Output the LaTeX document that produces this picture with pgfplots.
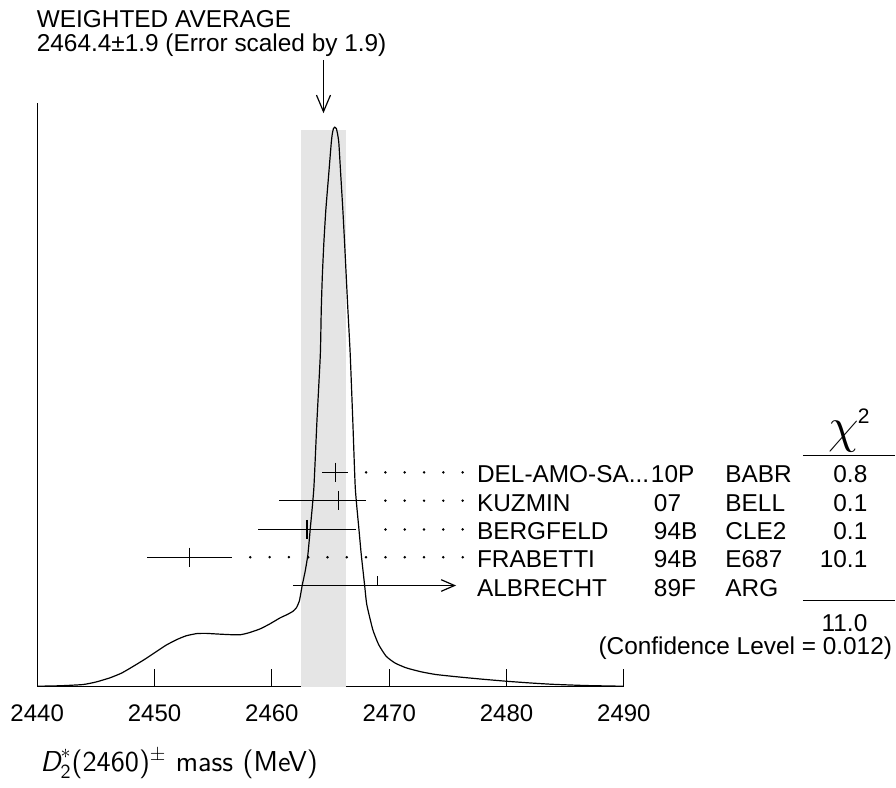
\documentclass[border=0pt]{standalone}
\usepackage{amsmath}
\usepackage{fontspec}
\setmainfont{Liberation Sans}
\usepackage{pgfplots}
\pgfplotsset{compat=1.18}
\usetikzlibrary{arrows.meta}
\begin{document}
\begin{tikzpicture}
\begin{scope}[x=0.5pt,y=-0.5pt]
\useasboundingbox (0,0) rectangle (896,788);
\end{scope}
\begin{axis}[
  at={(18.6pt,-343.5pt)}, anchor=south west,
  scale only axis, width=293.55pt, height=291.85pt,
  xmin=2440, xmax=2490, ymin=0, ymax=583.7,
  axis x line*=bottom, axis y line*=left,
  axis line style={line width=0.6pt},
  xtick={2440,2450,2460,2470,2480,2490},
  xticklabels={2440,2450,2460,2470,2480,2490},
  ytick=\empty,
  tick align=inside, major tick length=8.7pt,
  tick style={line width=0.6pt, black},
  xticklabel style={font=\fontsize{12}{14}\selectfont, yshift=-5.5pt},
  clip=false,
]
% shaded band
\addplot[fill=black!10, draw=none] coordinates {(2462.5,0) (2466.3,0) (2466.3,557) (2462.5,557)} -- cycle;
% ideogram curve
\addplot[black, line width=0.6pt, smooth, tension=0.3] coordinates {
(2440.0,0.3) (2442.0,0.8) (2443.9,2.0) (2445.0,4.5) (2446.2,8.7) (2447.2,13.5)
(2448.2,20.3) (2449.2,27.5) (2450.2,35.3) (2451.0,41.5) (2451.9,47) (2452.7,50.8)
(2453.6,53) (2454.4,53.2) (2455.3,52.6) (2456.3,52) (2457.3,51.8) (2458.1,54)
(2459.0,57.7) (2459.8,62.5) (2460.7,68.7) (2461.3,72) (2461.8,75.3) (2462.1,79)
(2462.35,86) (2462.6,102) (2462.85,116) (2463.07,132) (2463.28,158.7) (2463.58,198.7)
(2463.84,265.3) (2464.13,332) (2464.21,377) (2464.30,410.3) (2464.43,443.7)
(2464.60,477) (2464.83,510.3) (2465.06,543.7) (2465.15,553) (2465.25,558.3)
(2465.37,559.7) (2465.5,558.3) (2465.6,553) (2465.71,543.7) (2465.88,510.3)
(2466.05,477) (2466.20,443.7) (2466.34,410.3) (2466.48,377) (2466.68,332)
(2466.90,265.3) (2467.11,198.7) (2467.41,158.7) (2467.62,132) (2467.90,102)
(2468.09,82) (2468.6,57) (2469.1,42) (2469.74,30.3) (2470.5,23.5) (2471.45,18.7)
(2472.7,14.8) (2474.0,12) (2476.0,9.5) (2478.0,7.3) (2480.0,5.3) (2482.0,3.6)
(2484.0,2.2) (2486.8,1) (2490,0.3)
};
% measurements with error bars
\addplot[black, only marks, mark=|, mark size=4.85pt, mark options={line width=0.6pt},
  error bars/.cd, x dir=both, x explicit, error mark=none,
  error bar style={line width=0.6pt, black}] coordinates {
 (2465.4,214.3) += (1.1,0) -= (1.1,0)
 (2465.7,186) += (2.3,0) -= (5.1,0)
 (2463.0,157.2) += (4.2,0) -= (4.2,0)
 (2453.0,129.4) += (3.6,0) -= (3.6,0)
};
% ALBRECHT (not used in average)
\addplot[black, line width=0.6pt, -{Straight Barb[length=6.7pt,width=5.8pt]}] coordinates {(2461.8,101.1) (2475.7,101.1)};
\addplot[black, line width=0.6pt] coordinates {(2469,101.1) (2469,111)};
% dotted leaders
\addplot[black, only marks, mark=*, mark size=0.4pt] coordinates {
(2468.03,214.3) (2469.68,214.3) (2471.32,214.3) (2472.97,214.3) (2474.61,214.3) (2476.26,214.3)
(2469.68,186) (2471.32,186) (2472.97,186) (2474.61,186) (2476.26,186)
(2469.68,157.2) (2471.32,157.2) (2472.97,157.2) (2474.61,157.2) (2476.26,157.2)
(2458.16,129.4) (2459.81,129.4) (2461.45,129.4) (2463.10,129.4) (2464.74,129.4) (2466.39,129.4)
(2468.03,129.4) (2469.68,129.4) (2471.32,129.4) (2472.97,129.4) (2474.61,129.4) (2476.26,129.4)
};
% weighted average arrow
\addplot[black, line width=0.6pt, -{Straight Barb[length=8.3pt,width=7pt]}] coordinates {(2464.4,627) (2464.4,573.7)};
\end{axis}
\begin{scope}[x=0.5pt,y=-0.5pt, every node/.style={inner sep=0pt, font=\fontsize{12.2}{14}\selectfont}]
\node[anchor=base west] at (36.5,27.3) {WEIGHTED AVERAGE};
\node[anchor=base west] at (36.5,51.7) {2464.4±1.9 (Error scaled by 1.9)};
% table
\node[anchor=base west] at (477,483.3) {DEL-AMO-SA...};
\node[anchor=base west] at (477,511.6) {KUZMIN};
\node[anchor=base west] at (477,539.9) {BERGFELD};
\node[anchor=base west] at (477,568.2) {FRABETTI};
\node[anchor=base west] at (477,596.5) {ALBRECHT};
\node[anchor=base west] at (651,483.3) {10P};
\node[anchor=base west] at (654,511.6) {07};
\node[anchor=base west] at (654,539.9) {94B};
\node[anchor=base west] at (654,568.2) {94B};
\node[anchor=base west] at (654,596.5) {89F};
\node[anchor=base west] at (725.5,483.3) {BABR};
\node[anchor=base west] at (725.5,511.6) {BELL};
\node[anchor=base west] at (725.5,539.9) {CLE2};
\node[anchor=base west] at (725.5,568.2) {E687};
\node[anchor=base west] at (725.5,596.5) {ARG};
\node[anchor=base east] at (868.3,483.3) {0.8};
\node[anchor=base east] at (868.3,511.6) {0.1};
\node[anchor=base east] at (868.3,539.9) {0.1};
\node[anchor=base east] at (868.3,568.2) {10.1};
\node[anchor=base west] at (829,443) {\fontsize{23}{25}\selectfont $\chi$};
\node[anchor=base west] at (858,423.3) {\fontsize{10.5}{12}\selectfont 2};
\draw[line width=0.6pt] (803.3,455.7) -- (896,455.7);
\draw[line width=0.6pt] (803.3,600.7) -- (896,600.7);
\node[anchor=base east] at (868.3,631.5) {11.0};
\node[anchor=base east] at (893,655) {(Confidence Level = 0.012)};
% axis label
\node[anchor=base west] at (40,771.7) {\fontsize{14.4}{17}\selectfont\sffamily $\text{\sffamily\itshape D}^{*}_{\text{\sffamily 2}}$(2460)$^{\pm}$ mass (MeV)};
\end{scope}
\end{tikzpicture}
\end{document}
